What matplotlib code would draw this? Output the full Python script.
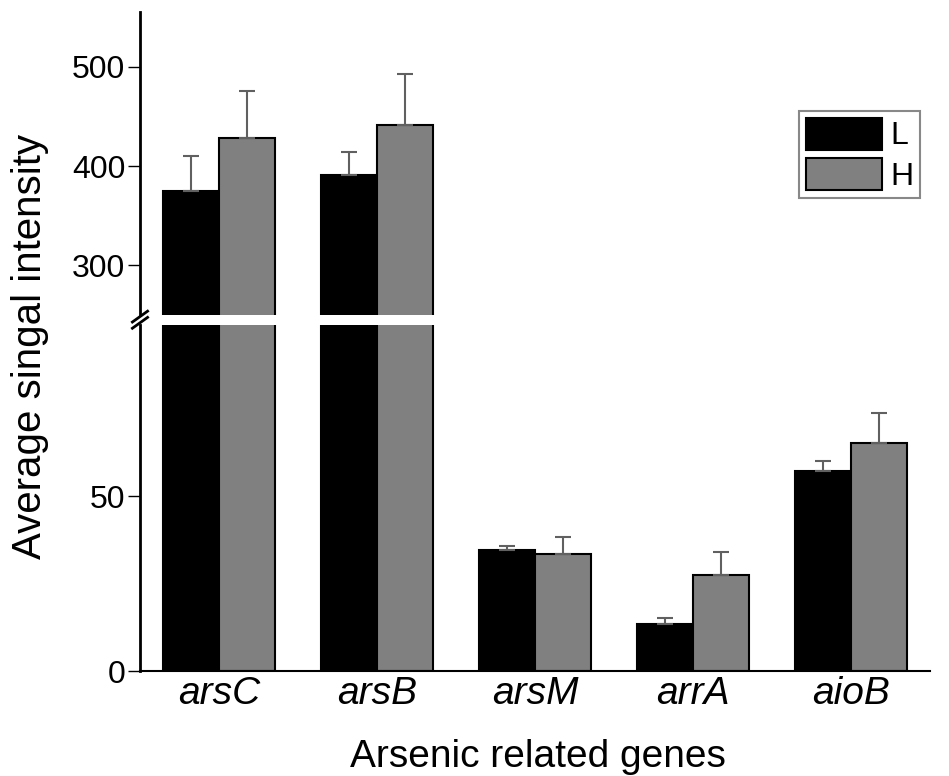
import numpy as np
import matplotlib.pyplot as plt

genes = ['arsC', 'arsB', 'arsM', 'arrA', 'aioB']
low_mean = [375, 391, 34.6, 13.4, 57.2]
low_err = [35, 23, 1.2, 1.8, 2.8]
high_mean = [428, 441, 33.6, 27.4, 65.3]
high_err = [48, 52, 4.8, 6.7, 8.6]

plt.rcParams['font.family'] = ['Liberation Sans', 'DejaVu Sans']

fig = plt.figure(figsize=(9.49, 7.76), dpi=100)
ax_top = fig.add_axes([0.1475, 0.594, 0.8325, 0.3905])
ax_bot = fig.add_axes([0.1475, 0.1353, 0.8325, 0.4457])

x = np.arange(len(genes))
w = 0.353
err_kw = dict(ecolor='#606060', elinewidth=1.5, capsize=6, capthick=1.5)

for ax in (ax_top, ax_bot):
    ax.bar(x - w / 2, low_mean, w, yerr=[np.zeros(5), low_err], color='black',
           edgecolor='black', linewidth=1.5, error_kw=err_kw, label='L')
    ax.bar(x + w / 2, high_mean, w, yerr=[np.zeros(5), high_err], color='#808080',
           edgecolor='black', linewidth=1.5, error_kw=err_kw, label='H')
    ax.set_xlim(-0.5, 4.5)
    ax.spines['top'].set_visible(False)
    ax.spines['right'].set_visible(False)
    ax.spines['left'].set_linewidth(2)
    ax.tick_params(axis='y', direction='out', length=9, width=1, labelsize=23, pad=1.5)

ax_top.set_ylim(250, 555)
ax_top.set_yticks([300, 400, 500])
ax_top.spines['bottom'].set_visible(False)
ax_top.set_xticks([])

ax_bot.set_ylim(0, 99)
ax_bot.set_yticks([0, 50])
ax_bot.spines['bottom'].set_linewidth(1.5)
ax_bot.set_xticks(x)
ax_bot.set_xticklabels(genes, fontsize=28, style='italic')
ax_bot.tick_params(axis='x', length=0, pad=3.5)

# break marks on the y axis
d = 0.008
kw = dict(transform=fig.transFigure, color='black', linewidth=2, clip_on=False)
for yb in (0.584, 0.592):
    fig.add_artist(plt.Line2D([0.1475 - d, 0.1475 + d], [yb - 0.007, yb + 0.007], **kw))

fig.text(0.032, 0.553, 'Average singal intensity', rotation=90, fontsize=29,
         ha='center', va='center')
fig.text(0.567, 0.0116, 'Arsenic related genes', fontsize=28,
         ha='center', va='baseline')

leg = ax_top.legend(loc='upper right', bbox_to_anchor=(0.987, 0.672), fontsize=23,
                    handlelength=2.4, handleheight=1.15, handletextpad=0.25,
                    borderpad=0.2, borderaxespad=0, labelspacing=0.2,
                    fancybox=False, framealpha=1)
leg.get_frame().set_edgecolor('#888888')
leg.get_frame().set_linewidth(1.5)

fig.savefig('out.png', dpi=100)
